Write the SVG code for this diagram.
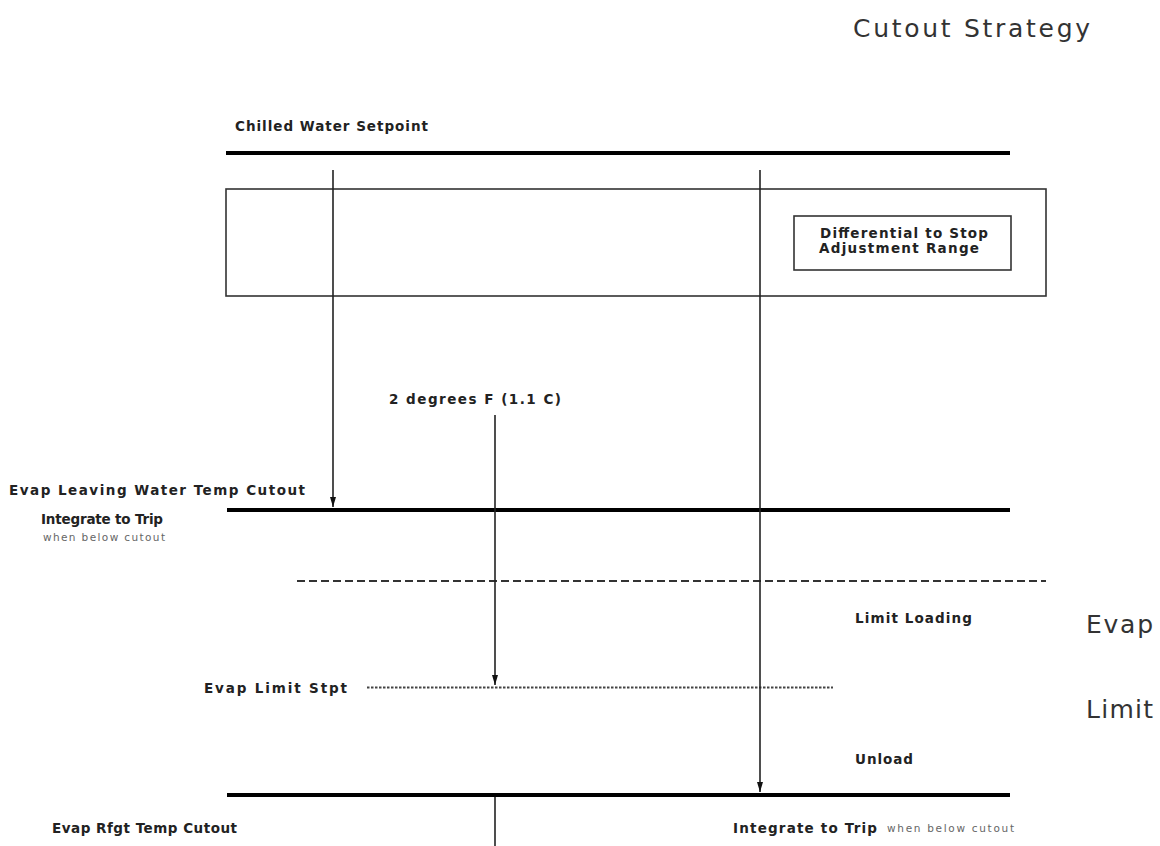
<svg xmlns="http://www.w3.org/2000/svg" width="1160" height="846" viewBox="0 0 1160 846">
<style>
.lbl{font-family:"DejaVu Sans","Liberation Sans",sans-serif;font-size:13.5px;font-weight:bold;fill:#222}
.sm{font-family:"DejaVu Sans","Liberation Sans",sans-serif;font-size:10.5px;fill:#666}
.big{font-family:"DejaVu Sans","Liberation Sans",sans-serif;font-size:25px;fill:#333}
.thick{stroke:#000;stroke-width:4;fill:none}
.thin{stroke:#222;stroke-width:1.6;fill:none}
.frame{stroke:#333;stroke-width:1.6;fill:none}
</style>
<defs>
<marker id="ah" markerWidth="10" markerHeight="6" refX="10" refY="3" orient="auto" markerUnits="userSpaceOnUse" viewBox="0 0 10 6">
<path d="M0,0 L10,3 L0,6 Z" fill="#111"/>
</marker>
</defs>
<rect width="1160" height="846" fill="#fff"/>
<g id="title"><text class="big" x="853" y="37" textLength="237" lengthAdjust="spacing">Cutout  Strategy</text></g>
<g id="side-label">
<text class="big" x="1086" y="633" textLength="67" lengthAdjust="spacing">Evap</text>
<text class="big" x="1086" y="718" textLength="67" lengthAdjust="spacing">Limit</text>
</g>
<g id="chilled-water-setpoint">
<text class="lbl" x="235" y="131" textLength="193" lengthAdjust="spacing">Chilled Water Setpoint</text>
<line class="thick" x1="226" y1="153" x2="1010" y2="153"/>
</g>
<g id="adjustment-range">
<rect class="frame" x="226" y="189" width="820" height="107"/>
<rect class="frame" x="794" y="216" width="217" height="54"/>
<text class="lbl" x="820" y="238" textLength="168" lengthAdjust="spacing">Differential to Stop</text>
<text class="lbl" x="819" y="253" textLength="160" lengthAdjust="spacing">Adjustment Range</text>
</g>
<g id="degrees-label"><text class="lbl" x="389" y="404" textLength="172" lengthAdjust="spacing">2 degrees F (1.1 C)</text></g>
<g id="evap-leaving-water-cutout">
<text class="lbl" x="9" y="495" textLength="296" lengthAdjust="spacing">Evap Leaving Water Temp Cutout</text>
<line class="thick" x1="227" y1="510" x2="1010" y2="510"/>
<text class="lbl" x="41" y="524" textLength="122" lengthAdjust="spacing">Integrate to Trip</text>
<text class="sm" x="43" y="541" textLength="122" lengthAdjust="spacing">when below cutout</text>
</g>
<g id="limit-loading">
<line x1="297" y1="581" x2="1046" y2="581" stroke="#333" stroke-width="2" stroke-dasharray="8,4"/>
<text class="lbl" x="855" y="623" textLength="117" lengthAdjust="spacing">Limit Loading</text>
</g>
<g id="evap-limit-stpt">
<text class="lbl" x="204" y="693" textLength="143" lengthAdjust="spacing">Evap Limit Stpt</text>
<line x1="367" y1="687.5" x2="833" y2="687.5" stroke="#444" stroke-width="2" stroke-dasharray="2.5,1.5"/>
</g>
<g id="unload"><text class="lbl" x="855" y="764" textLength="58" lengthAdjust="spacing">Unload</text></g>
<g id="evap-rfgt-cutout">
<line class="thick" x1="227" y1="795" x2="1010" y2="795"/>
<text class="lbl" x="52" y="833" textLength="185" lengthAdjust="spacing">Evap Rfgt Temp Cutout</text>
<text class="lbl" x="733" y="833" textLength="144" lengthAdjust="spacing">Integrate to Trip</text>
<text class="sm" x="887" y="832" textLength="127" lengthAdjust="spacing">when below cutout</text>
</g>
<g id="connectors">
<line class="thin" x1="333" y1="170" x2="333" y2="507" marker-end="url(#ah)"/>
<line class="thin" x1="760" y1="170" x2="760" y2="792" marker-end="url(#ah)"/>
<line class="thin" x1="495" y1="415" x2="495" y2="685" marker-end="url(#ah)"/>
<line class="thin" x1="495" y1="797" x2="495" y2="846"/>
</g>
</svg>
